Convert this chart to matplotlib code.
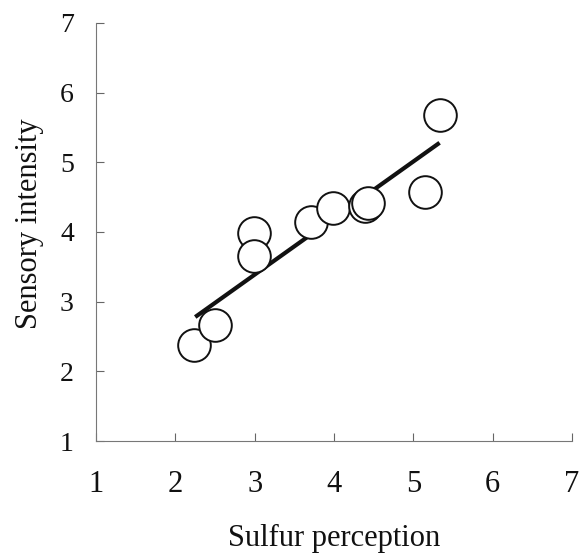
import matplotlib.pyplot as plt
import numpy as np

# Sulfur perception vs sensory intensity
sulfur = [2.24, 2.50, 2.99, 2.99, 3.71, 3.99, 4.39, 4.43, 5.14, 5.33]
intensity = [2.38, 2.66, 3.99, 3.66, 4.14, 4.34, 4.38, 4.42, 4.58, 5.68]

# fitted line end points
fit_x = [2.25, 5.33]
fit_y = [2.78, 5.28]

ticks = [1, 2, 3, 4, 5, 6, 7]

plt.rcParams['font.family'] = ['Liberation Serif', 'DejaVu Serif']

fig = plt.figure(figsize=(5.82, 5.59), dpi=100)
ax = fig.add_axes([0.165, 0.211, 0.818, 0.748])

ax.plot(fit_x, fit_y, color='#111111', lw=3.0, solid_capstyle='butt', zorder=2)
ax.plot(sulfur, intensity, 'o', ms=23.5, mfc='white', mec='#111111', mew=1.4,
        linestyle='none', zorder=3)

ax.set_xlim(1, 7)
ax.set_ylim(1, 7)
ax.set_xticks(ticks)
ax.set_yticks(ticks)

for side in ['top', 'right']:
    ax.spines[side].set_visible(False)
for side in ['left', 'bottom']:
    ax.spines[side].set_color('#777777')
    ax.spines[side].set_linewidth(0.8)

ax.tick_params(direction='in', length=6, width=0.8, color='#666666',
               labelcolor='#111111')
ax.tick_params(axis='x', pad=21, labelsize=22)
ax.tick_params(axis='y', pad=16, labelsize=20)

ax.set_xlabel('Sulfur perception', fontsize=22, color='#111111', labelpad=18)
ax.set_ylabel('Sensory intensity', fontsize=22, color='#111111')
ax.yaxis.set_label_coords(-0.11, 0.52)

fig.savefig('out.png', dpi=100)
